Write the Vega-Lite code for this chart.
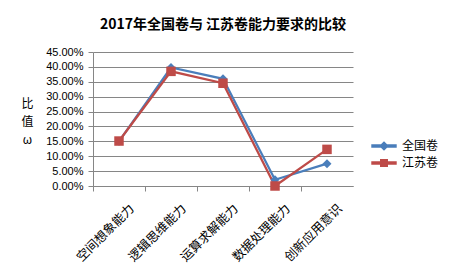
{
  "$schema": "https://vega.github.io/schema/vega-lite/v6.json",
  "autosize": "none",
  "width": 260,
  "height": 134,
  "padding": {"left": 93, "top": 52, "right": 100, "bottom": 94},
  "background": "white",
  "config": {
    "font": "Noto Sans CJK SC",
    "view": {"stroke": null}
  },
  "title": {
    "text": "2017年全国卷与 江苏卷能力要求的比较",
    "fontSize": 14,
    "fontWeight": "bold",
    "font": "Noto Sans CJK SC",
    "color": "#000000",
    "anchor": "middle",
    "offset": 14
  },
  "data": {
    "values": [
      {"能力": "空间想象能力", "系列": "全国卷", "比值": 0.15},
      {"能力": "逻辑思维能力", "系列": "全国卷", "比值": 0.398},
      {"能力": "运算求解能力", "系列": "全国卷", "比值": 0.36},
      {"能力": "数据处理能力", "系列": "全国卷", "比值": 0.021},
      {"能力": "创新应用意识", "系列": "全国卷", "比值": 0.075},
      {"能力": "空间想象能力", "系列": "江苏卷", "比值": 0.151},
      {"能力": "逻辑思维能力", "系列": "江苏卷", "比值": 0.385},
      {"能力": "运算求解能力", "系列": "江苏卷", "比值": 0.345},
      {"能力": "数据处理能力", "系列": "江苏卷", "比值": 0.0},
      {"能力": "创新应用意识", "系列": "江苏卷", "比值": 0.123}
    ]
  },
  "encoding": {
    "x": {
      "field": "能力",
      "type": "nominal",
      "sort": null,
      "scale": {"type": "band", "paddingInner": 0, "paddingOuter": 0},
      "axis": {
        "title": null,
        "bandPosition": 0,
        "labelAngle": -45,
        "labelAlign": "right",
        "labelBaseline": "middle",
        "labelOffset": 13,
        "labelPadding": 15,
        "labelFontSize": 12.5,
        "labelColor": "#000000",
        "labelFont": "Noto Sans CJK SC",
        "domainColor": "#868686",
        "tickColor": "#868686",
        "tickSize": 5,
        "grid": false
      }
    },
    "y": {
      "field": "比值",
      "type": "quantitative",
      "scale": {"domain": [0, 0.45], "nice": false},
      "axis": {
        "format": ".2%",
        "values": [0, 0.05, 0.1, 0.15, 0.2, 0.25, 0.3, 0.35, 0.4, 0.45],
        "labelFont": "Liberation Sans",
        "labelFontSize": 11,
        "labelColor": "#000000",
        "labelPadding": 5,
        "tickSize": 5,
        "tickColor": "#868686",
        "domainColor": "#868686",
        "gridColor": "#868686",
        "grid": true,
        "title": ["比", "值", "ω"],
        "titleAngle": 0,
        "titleAlign": "center",
        "titleBaseline": "top",
        "titleX": -66,
        "titleY": 46,
        "titleFontSize": 12,
        "titleFontWeight": "normal",
        "titleLineHeight": 18,
        "titleColor": "#000000"
      }
    },
    "color": {
      "field": "系列",
      "type": "nominal",
      "scale": {"domain": ["全国卷", "江苏卷"], "range": ["#4A7EBB", "#BE4B48"]},
      "legend": {
        "title": null,
        "orient": "none",
        "legendX": 281,
        "legendY": 84,
        "labelFontSize": 12,
        "labelColor": "#000000",
        "labelFont": "Noto Sans CJK SC",
        "symbolSize": 324,
        "symbolOpacity": 1,
        "rowPadding": 0,
        "labelOffset": 8,
        "encode": {
          "symbols": {
            "update": {
              "shape": {"signal": "datum.value === '全国卷' ? 'M-1.33,-0.11H1.33V0.11H-1.33Z M-0.42,0L0,-0.42L0.42,0L0,0.42Z' : 'M-1.33,-0.11H1.33V0.11H-1.33Z M-0.36,-0.36H0.36V0.36H-0.36Z'"}
            }
          }
        }
      }
    }
  },
  "layer": [
    {
      "mark": {"type": "line", "strokeWidth": 2.25}
    },
    {
      "transform": [{"filter": "datum['系列'] === '全国卷'"}],
      "mark": {"type": "point", "filled": true, "opacity": 1, "size": 80, "shape": "diamond"}
    },
    {
      "transform": [{"filter": "datum['系列'] === '江苏卷'"}],
      "mark": {"type": "point", "filled": true, "opacity": 1, "size": 90, "shape": "square"}
    }
  ]
}
